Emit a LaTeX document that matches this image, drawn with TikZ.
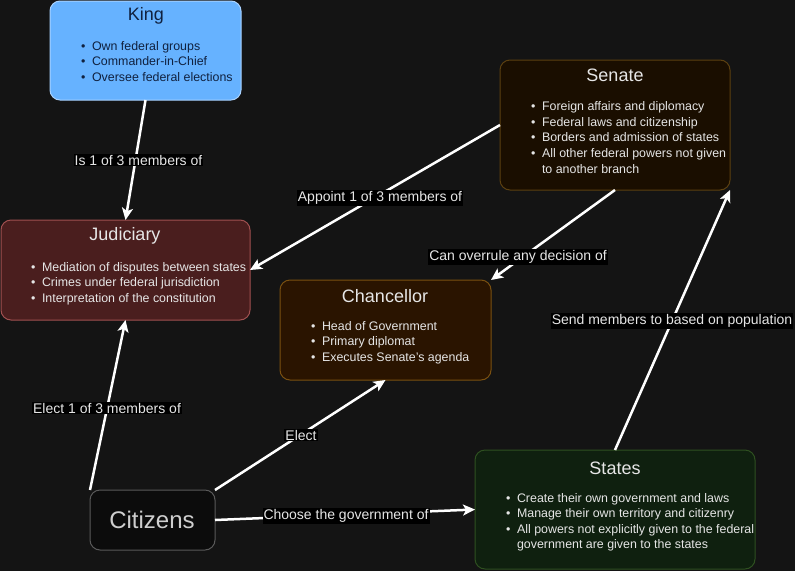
\documentclass[tikz,border=0pt]{standalone}
\usepackage{fontspec}
\setmainfont{Liberation Sans}
\usetikzlibrary{arrows.meta}
\definecolor{bg}{HTML}{141414}
\definecolor{kingfill}{HTML}{66B2FF}
\definecolor{kingdraw}{HTML}{A8D2FF}
\definecolor{kingtext}{HTML}{10213F}
\definecolor{senfill}{HTML}{1A0E00}
\definecolor{sendraw}{HTML}{5C4010}
\definecolor{judfill}{HTML}{4A1E1E}
\definecolor{juddraw}{HTML}{A05050}
\definecolor{chafill}{HTML}{2A1400}
\definecolor{chadraw}{HTML}{7A5010}
\definecolor{stafill}{HTML}{0F200F}
\definecolor{stadraw}{HTML}{2E5020}
\definecolor{citfill}{HTML}{0C0C0C}
\definecolor{citdraw}{HTML}{5A5A5A}
\definecolor{lighttext}{HTML}{E6E6E6}
\newcommand{\blist}[1]{\fontsize{12.4}{15.6}\selectfont\begin{tabular}{@{}c@{\hspace{6.5pt}}l@{}}#1\end{tabular}}
\tikzset{
  box/.style={rounded corners=10pt, line width=1pt, inner sep=0pt, outer sep=0pt, anchor=north west},
  ttl/.style={font=\fontsize{18}{20}\selectfont, inner sep=0pt},
  bl/.style={inner sep=0pt, anchor=north west},
  conn/.style={draw=white, line width=2.5pt, -{Stealth[length=12pt,width=11pt,inset=3pt]}},
  lbl/.style={fill=black, text=lighttext, font=\fontsize{14}{16}\selectfont, inner sep=1pt}
}
\begin{document}
\begin{tikzpicture}[x=1pt,y=-1pt]
\fill[bg] (0,0) rectangle (795,571);
\useasboundingbox (0,0) rectangle (795,571);
% boxes
\node[box, fill=kingfill, draw=kingdraw, minimum width=191pt, minimum height=99pt] (king) at (50,1) {};
\node[box, fill=senfill, draw=sendraw, minimum width=230pt, minimum height=130pt] (senate) at (500,60) {};
\node[box, fill=judfill, draw=juddraw, minimum width=249pt, minimum height=100pt] (jud) at (1,220) {};
\node[box, fill=chafill, draw=chadraw, minimum width=211pt, minimum height=100pt] (chan) at (280,280) {};
\node[box, fill=stafill, draw=stadraw, minimum width=280pt, minimum height=119pt] (states) at (475,450) {};
\node[box, fill=citfill, draw=citdraw, minimum width=125pt, minimum height=60pt] (cit) at (90,490) {};
% titles
\node[ttl, text=kingtext] (kingt) at (146,16) {King};
\node[ttl, text=lighttext] (sent) at (615,75) {Senate};
\node[ttl, text=lighttext] (judt) at (125,236) {Judiciary};
\node[ttl, text=lighttext] (chant) at (385,296) {Chancellor};
\node[ttl, text=lighttext] (statt) at (615,468) {States};
\node[font=\fontsize{24}{26}\selectfont, text=lighttext!90!black, inner sep=0pt] (citt) at (152,520) {Citizens};
% bullet lists
\node[bl, text=kingtext] (kingl) at (81,39) {\blist{• & Own federal groups\\ • & Commander-in-Chief\\ • & Oversee federal elections}};
\node[bl, text=lighttext] (senl) at (531,99.5) {\blist{• & Foreign affairs and diplomacy\\ • & Federal laws and citizenship\\ • & Borders and admission of states\\ • & All other federal powers not given\\ & to another branch}};
\node[bl, text=lighttext] (judl) at (31,260) {\blist{• & Mediation of disputes between states\\ • & Crimes under federal jurisdiction\\ • & Interpretation of the constitution}};
\node[bl, text=lighttext] (chanl) at (311,319) {\blist{• & Head of Government\\ • & Primary diplomat\\ • & Executes Senate's agenda}};
\node[bl, text=lighttext] (statl) at (506,491) {\blist{• & Create their own government and laws\\ • & Manage their own territory and citizenry\\ • & All powers not explicitly given to the federal\\ & government are given to the states}};
% connectors
\draw[conn] (king.south) -- (jud.north);
\draw[conn] (senate.west) -- (jud.east);
\draw[conn] (senate.south) -- (chan.north east);
\draw[conn] (states.north) -- (senate.south east);
\draw[conn] (cit.north west) -- (jud.south);
\draw[conn] (cit.north east) -- (chan.south);
\draw[conn] (cit.east) -- (states.west);
% labels
\node[lbl] (l1) at (138.5,160) {Is 1 of 3 members of};
\node[lbl] (l2) at (380,198) {Appoint 1 of 3 members of};
\node[lbl] (l3) at (518,257) {Can overrule any decision of};
\node[lbl] (l4) at (672,321) {Send members to based on population};
\node[lbl] (l5) at (107,408) {Elect 1 of 3 members of};
\node[lbl] (l6) at (301,435) {Elect};
\node[lbl] (l7) at (346,516) {Choose the government of};
\end{tikzpicture}
\end{document}
